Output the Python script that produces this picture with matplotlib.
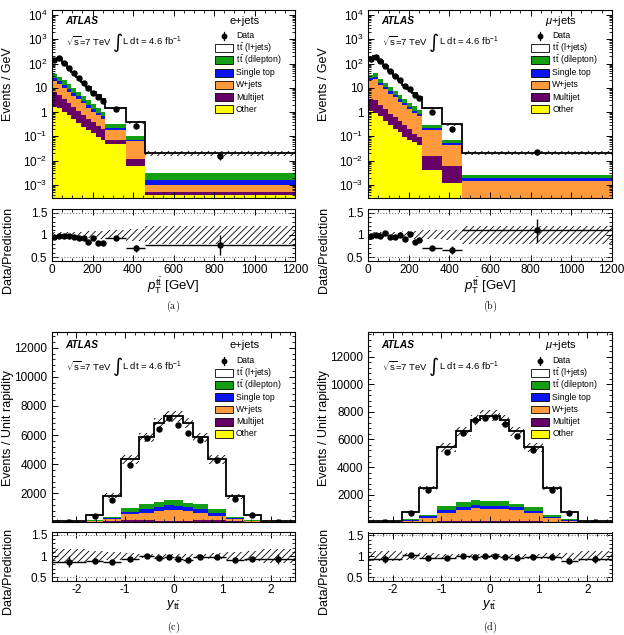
import numpy as np
import matplotlib
matplotlib.use('Agg')
import matplotlib.pyplot as plt
from matplotlib.patches import Rectangle
from matplotlib.ticker import FixedLocator, FixedFormatter, MultipleLocator, LogLocator, NullFormatter

plt.rcParams['font.family'] = ['Liberation Sans', 'DejaVu Sans']
plt.rcParams['mathtext.fontset'] = 'custom'
plt.rcParams['mathtext.rm'] = 'Liberation Sans'
plt.rcParams['mathtext.it'] = 'Liberation Sans:italic'
plt.rcParams['mathtext.bf'] = 'Liberation Sans:bold'
plt.rcParams['axes.unicode_minus'] = False
plt.rcParams['hatch.linewidth'] = 0.6

# ---- binning ----
pt_edges = [0, 24, 48, 72, 96, 120, 144, 168, 192, 216, 240, 264, 365, 460, 1200]
y_edges = [-2.5, -1.8, -1.45, -1.08, -0.7, -0.4, -0.2, 0, 0.2, 0.4, 0.7, 1.08, 1.45, 1.8, 2.5]

# ---- (a) pT(tt), e+jets  [events / GeV] ----
a_other = [1.68, 1.53, 1.05, 0.74, 0.53, 0.35, 0.25, 0.19, 0.135, 0.098, 0.072, 0.048, 0.0058, 0.00039]
a_multijet = [5.3, 3.6, 2.45, 1.56, 1.07, 0.77, 0.51, 0.33, 0.245, 0.17, 0.12, 0.026, 0.0057, 0.00014]
a_wjets = [12.2, 8.9, 6.7, 4.7, 3.2, 2.3, 1.5, 1.0, 0.67, 0.47, 0.34, 0.106, 0.05, 0.00047]
a_stop = [5.4, 4.2, 3.1, 2.0, 1.4, 1.0, 0.66, 0.43, 0.29, 0.17, 0.14, 0.04, 0.006, 0.00062]
a_dilep = [11.8, 9.8, 7.2, 5.0, 3.4, 2.2, 1.74, 1.24, 0.76, 0.54, 0.38, 0.10, 0.032, 0.00143]
a_ljets = [113.6, 144, 87.5, 53, 33.4, 20.4, 12.8, 8.1, 4.5, 3.45, 2.45, 1.13, 0.28, 0.017]
a_data = [142, 167, 104, 65, 41, 25, 16, 9.6, 6.1, 4.0, 2.9, 1.3, 0.26, 0.015]
a_ratio = [0.95, 0.97, 0.97, 0.98, 0.95, 0.94, 0.92, 0.85, 0.92, 0.82, 0.82, 0.93, 0.70, 0.77]
a_ratio_err = [0.01, 0.01, 0.01, 0.01, 0.015, 0.015, 0.02, 0.025, 0.03, 0.035, 0.04, 0.04, 0.08, 0.22]
a_unc = [0.06, 0.06, 0.06, 0.06, 0.07, 0.07, 0.07, 0.08, 0.08, 0.09, 0.09, 0.10, 0.14, 0.20]

# ---- (b) pT(tt), mu+jets ----
b_other = [1.1, 0.91, 0.66, 0.44, 0.30, 0.20, 0.15, 0.098, 0.072, 0.058, 0.045, 0.0042, 0.00125, 1e-5]
b_multijet = [2.4, 2.1, 1.34, 0.86, 0.55, 0.40, 0.27, 0.2, 0.128, 0.062, 0.045, 0.0106, 0.005, 1e-5]
b_wjets = [16.5, 19, 11, 7.2, 4.95, 3.4, 2.28, 1.6, 1.1, 0.83, 0.61, 0.171, 0.036, 0.00136]
b_stop = [5, 5, 3.5, 2.0, 1.4, 1.0, 0.7, 0.5, 0.35, 0.2, 0.15, 0.044, 0.01, 0.00052]
b_dilep = [10, 13, 7.5, 5.0, 3.3, 2.3, 1.6, 1.1, 0.75, 0.55, 0.35, 0.05, 0.02, 0.0007]
b_ljets = [130, 155, 101, 62.5, 39.5, 24.7, 16, 10, 6.6, 4.4, 3.0, 1.17, 0.238, 0.0184]
b_data = [160, 193, 122, 81, 47, 30, 21, 12.3, 9.3, 5.2, 3.7, 1.0, 0.2, 0.023]
b_ratio = [0.97, 0.99, 0.98, 1.04, 0.95, 0.95, 0.99, 0.91, 1.03, 0.85, 0.88, 0.70, 0.66, 1.10]
b_ratio_err = [0.01, 0.01, 0.01, 0.015, 0.015, 0.02, 0.02, 0.025, 0.03, 0.035, 0.04, 0.04, 0.08, 0.25]
b_unc = [0.06, 0.06, 0.06, 0.06, 0.07, 0.07, 0.07, 0.08, 0.08, 0.09, 0.09, 0.10, 0.12, 0.20]

# ---- (c) y(tt), e+jets  [events / unit rapidity] ----
c_other = [5, 20, 40, 50, 50, 45, 45, 45, 45, 50, 50, 40, 20, 5]
c_multijet = [5, 30, 70, 90, 80, 70, 70, 70, 70, 80, 90, 70, 30, 5]
c_wjets = [5, 30, 97, 412, 532, 664, 733, 733, 664, 532, 315, 97, 30, 5]
c_stop = [3, 20, 67, 179, 235, 297, 345, 282, 255, 235, 166, 67, 20, 3]
c_dilep = [7, 50, 116, 269, 343, 344, 347, 410, 326, 343, 319, 116, 50, 7]
c_ljets = [30, 330, 1445, 3345, 4594, 5408, 5743, 5743, 5468, 4594, 3390, 1400, 350, 30]
c_data = [40, 434, 1538, 3952, 5793, 6434, 7172, 6710, 6138, 5628, 4248, 1607, 483, 40]
c_ratio = [0.87, 0.88, 0.86, 0.92, 0.99, 0.95, 0.98, 0.93, 0.90, 0.97, 0.98, 0.90, 0.92, 0.92]
c_ratio_err = [0.12, 0.03, 0.02, 0.015, 0.01, 0.01, 0.01, 0.01, 0.01, 0.01, 0.015, 0.02, 0.03, 0.12]
c_unc = [0.17, 0.12, 0.10, 0.07, 0.05, 0.05, 0.05, 0.05, 0.05, 0.05, 0.07, 0.10, 0.12, 0.17]

# ---- (d) y(tt), mu+jets ----
d_other = [3, 10, 20, 30, 30, 30, 30, 30, 30, 30, 30, 20, 10, 3]
d_multijet = [3, 10, 25, 45, 50, 45, 45, 45, 45, 50, 45, 25, 10, 3]
d_wjets = [9, 100, 273, 605, 788, 966, 894, 894, 894, 788, 605, 249, 100, 9]
d_stop = [5, 50, 116, 238, 242, 239, 238, 238, 238, 242, 166, 96, 50, 5]
d_dilep = [8, 70, 123, 242, 336, 320, 353, 353, 353, 220, 264, 167, 70, 8]
d_ljets = [32, 483, 1930, 4263, 5134, 5826, 6155, 6155, 5866, 5250, 4313, 1930, 500, 32]
d_data = [50, 694, 2364, 5090, 6464, 7426, 7547, 7621, 7137, 6218, 5257, 2364, 680, 50]
d_ratio = [0.93, 1.03, 0.97, 0.95, 1.00, 0.99, 1.00, 1.00, 0.98, 0.96, 0.98, 0.99, 0.89, 0.94]
d_ratio_err = [0.10, 0.025, 0.015, 0.01, 0.01, 0.01, 0.01, 0.01, 0.01, 0.01, 0.01, 0.015, 0.025, 0.10]
d_unc = [0.12, 0.09, 0.07, 0.06, 0.05, 0.05, 0.05, 0.05, 0.05, 0.05, 0.06, 0.07, 0.09, 0.12]

stack_colors = ['#ffff00', '#660066', '#ff9a3c', '#0a14f0', '#139e13', 'white']
legend_labels = ['Data', r'$\mathrm{t\,\bar{t}}$ (l+jets)', r'$\mathrm{t\,\bar{t}}$ (dilepton)',
                 'Single top', 'W+jets', 'Multijet', 'Other']
legend_colors = ['white', '#139e13', '#0a14f0', '#ff9a3c', '#660066', '#ffff00']

W, H = 624, 635
fig = plt.figure(figsize=(W / 100, H / 100), dpi=100)


def rect(x0, y0, x1, y1):
    return [x0 / W, 1 - y1 / H, (x1 - x0) / W, (y1 - y0) / H]


def style(ax):
    ax.tick_params(which='both', direction='in', top=True, right=True, labelsize=8.5)
    ax.tick_params(which='major', length=4.5, width=0.7)
    ax.tick_params(which='minor', length=2.3, width=0.6)
    for s in ax.spines.values():
        s.set_linewidth(0.8)


def draw(mrect, rrect, edges, comps, data, ratio, rerr, unc, logy, ylim,
         channel, xlabel, ylabel, caption, cap_pos, dy0, rlab_y, xlab_y):
    ax = fig.add_axes(mrect)
    rax = fig.add_axes(rrect)
    edges = np.asarray(edges, float)
    centers = 0.5 * (edges[1:] + edges[:-1])
    halfw = 0.5 * np.diff(edges)
    unc = np.asarray(unc)

    base = np.full(len(centers), 1e-7 if logy else 0.0)
    for vals, col in zip(comps, stack_colors):
        top = base + np.asarray(vals, float)
        ax.stairs(top, edges, baseline=base, fill=True, color=col, lw=0)
        base = top
    total = base
    ax.fill_between(edges, np.append(total * (1 - unc), total[-1] * (1 - unc[-1])),
                    np.append(total * (1 + unc), total[-1] * (1 + unc[-1])),
                    step='post', hatch='/////', facecolor='none', edgecolor='black', lw=0)
    ax.stairs(total, edges, baseline=None, color='black', lw=1.3)
    data = np.asarray(data, float)
    ratio = np.asarray(ratio, float)
    rerr = np.asarray(rerr, float)
    ax.errorbar(centers, data, yerr=data * rerr / ratio, fmt='o', ms=3.6, color='black',
                elinewidth=1, capsize=0, zorder=5)

    ax.set_xlim(edges[0], edges[-1])
    rax.set_xlim(edges[0], edges[-1])
    if logy:
        ax.set_yscale('log')
        ax.set_ylim(*ylim)
        dec = [1e-3, 1e-2, 1e-1, 1, 10, 1e2, 1e3, 1e4]
        ax.yaxis.set_major_locator(FixedLocator(dec))
        ax.yaxis.set_major_formatter(FixedFormatter(
            [r'$10^{-3}$', r'$10^{-2}$', r'$10^{-1}$', '1', '10', r'$10^{2}$', r'$10^{3}$', r'$10^{4}$']))
        ax.yaxis.set_minor_locator(LogLocator(base=10, subs=np.arange(2, 10), numticks=20))
        ax.yaxis.set_minor_formatter(NullFormatter())
        for a in (ax, rax):
            a.xaxis.set_major_locator(MultipleLocator(200))
            a.xaxis.set_minor_locator(MultipleLocator(50))
    else:
        ax.set_ylim(*ylim)
        ax.yaxis.set_major_locator(FixedLocator([2000, 4000, 6000, 8000, 10000, 12000]))
        ax.yaxis.set_minor_locator(MultipleLocator(400))
        for a in (ax, rax):
            a.xaxis.set_major_locator(MultipleLocator(1))
            a.xaxis.set_minor_locator(MultipleLocator(0.2))
    style(ax)
    style(rax)
    ax.tick_params(labelbottom=False)
    rax.tick_params(axis='x', pad=2.5)

    # ratio panel
    rax.fill_between(edges, np.append(1 - unc, 1 - unc[-1]), np.append(1 + unc, 1 + unc[-1]),
                     step='post', hatch='/////', facecolor='none', edgecolor='black', lw=0)
    rax.axhline(0.5, color='grey', ls=':', lw=0.8)
    rax.axhline(1.5, color='grey', ls=':', lw=0.8)
    rax.errorbar(centers, ratio, xerr=halfw, yerr=rerr, fmt='o', ms=3.6, color='black',
                 elinewidth=1, capsize=0, zorder=5)
    rax.set_ylim(0.42, 1.57)
    rax.yaxis.set_major_locator(FixedLocator([0.5, 1.0, 1.5]))
    rax.yaxis.set_major_formatter(FixedFormatter(['0.5', '1', '1.5']))
    rax.yaxis.set_minor_locator(MultipleLocator(0.1))

    # labels
    ax.set_ylabel(ylabel, fontsize=9, ha='right', va='center')
    ax.yaxis.set_label_coords(-0.183, 0.80)
    rax.set_ylabel('Data/Prediction', fontsize=9, ha='right', va='center')
    rax.yaxis.set_label_coords(-0.183, rlab_y)
    rax.set_xlabel(xlabel, fontsize=9.5, va='top')
    rax.xaxis.set_label_coords(0.5, xlab_y)

    # annotations, offsets in pixels from the top-left corner of the main axes
    bb = ax.get_position()
    wpx, hpx = bb.width * W, bb.height * H

    def p(dx, dy):
        return dx / wpx, 1 - (dy + dy0) / hpx

    ax.text(*p(13, 10.5), 'ATLAS', transform=ax.transAxes, fontsize=7.3, fontweight='bold',
            fontstyle='italic', ha='left', va='center')
    ax.text(*p(13.5, 31.5), r'$\sqrt{\mathrm{s}}$=7 TeV', transform=ax.transAxes, fontsize=6.8,
            ha='left', va='center')
    ax.text(*p(61, 32), '\u222b', transform=ax.transAxes, fontsize=14, family='DejaVu Sans',
            ha='left', va='center')
    ax.text(*p(70.5, 31.5), r'L dt = 4.6 fb$^{-1}$', transform=ax.transAxes, fontsize=6.8,
            ha='left', va='center')
    ax.text(*p(193, 10.5), channel, transform=ax.transAxes, fontsize=8, ha='center', va='center')

    # legend
    for i, lab in enumerate(legend_labels):
        dy = 26 + 12.2 * i
        x, y = p(184, dy)
        ax.text(x, y, lab, transform=ax.transAxes, fontsize=6.2, ha='left', va='center')
        if i == 0:
            mx, my = p(172, dy)
            ax.plot([mx], [my], 'o', ms=3.2, color='black', transform=ax.transAxes, clip_on=False)
            y1 = p(172, dy - 4)[1]
            y2 = p(172, dy + 4)[1]
            ax.plot([mx, mx], [y1, y2], color='black', lw=0.9, transform=ax.transAxes, clip_on=False)
        else:
            x0, y0 = p(163, dy + 3.9)
            x1, y1 = p(181, dy - 3.9)
            ax.add_patch(Rectangle((x0, y0), x1 - x0, y1 - y0, transform=ax.transAxes,
                                   facecolor=legend_colors[i - 1], edgecolor='black', lw=0.6,
                                   clip_on=False, zorder=6))

    fig.text(cap_pos[0] / W, 1 - cap_pos[1] / H, r'$(\mathrm{' + caption + '})$',
             math_fontfamily='cm', fontsize=7.3, ha='center', va='center')


pt_label = r'$p_{\mathrm{T}}^{\mathrm{t\bar{t}}}$ [GeV]'
y_label = r'$y_{\mathrm{t\bar{t}}}$'

draw(rect(52, 10, 295, 198.3), rect(52, 209.5, 295, 260.7), pt_edges,
     [a_other, a_multijet, a_wjets, a_stop, a_dilep, a_ljets], a_data, a_ratio, a_ratio_err, a_unc,
     True, (2.8e-4, 1.6e4), 'e+jets', pt_label, 'Events / GeV', 'a', (173.5, 306.5), 0, 1.045, -0.29)
draw(rect(368.3, 10, 611.7, 198.3), rect(368.3, 209.5, 611.7, 260.7), pt_edges,
     [b_other, b_multijet, b_wjets, b_stop, b_dilep, b_ljets], b_data, b_ratio, b_ratio_err, b_unc,
     True, (2.8e-4, 1.6e4), r'$\mu$+jets', pt_label, 'Events / GeV', 'b', (490, 306.5), 0, 1.045, -0.29)
draw(rect(52, 331.7, 295, 522.3), rect(52, 532, 295, 580.5), y_edges,
     [c_other, c_multijet, c_wjets, c_stop, c_dilep, c_ljets], c_data, c_ratio, c_ratio_err, c_unc,
     False, (0, 13100), 'e+jets', y_label, 'Events / Unit rapidity', 'c', (173.5, 627), 3, 1.09, -0.36)
draw(rect(368.3, 331.7, 611.7, 522.3), rect(368.3, 532.5, 611.7, 580.5), y_edges,
     [d_other, d_multijet, d_wjets, d_stop, d_dilep, d_ljets], d_data, d_ratio, d_ratio_err, d_unc,
     False, (0, 13800), r'$\mu$+jets', y_label, 'Events / Unit rapidity', 'd', (490, 627), 3, 1.09, -0.36)

fig.savefig('out.png', dpi=100)
